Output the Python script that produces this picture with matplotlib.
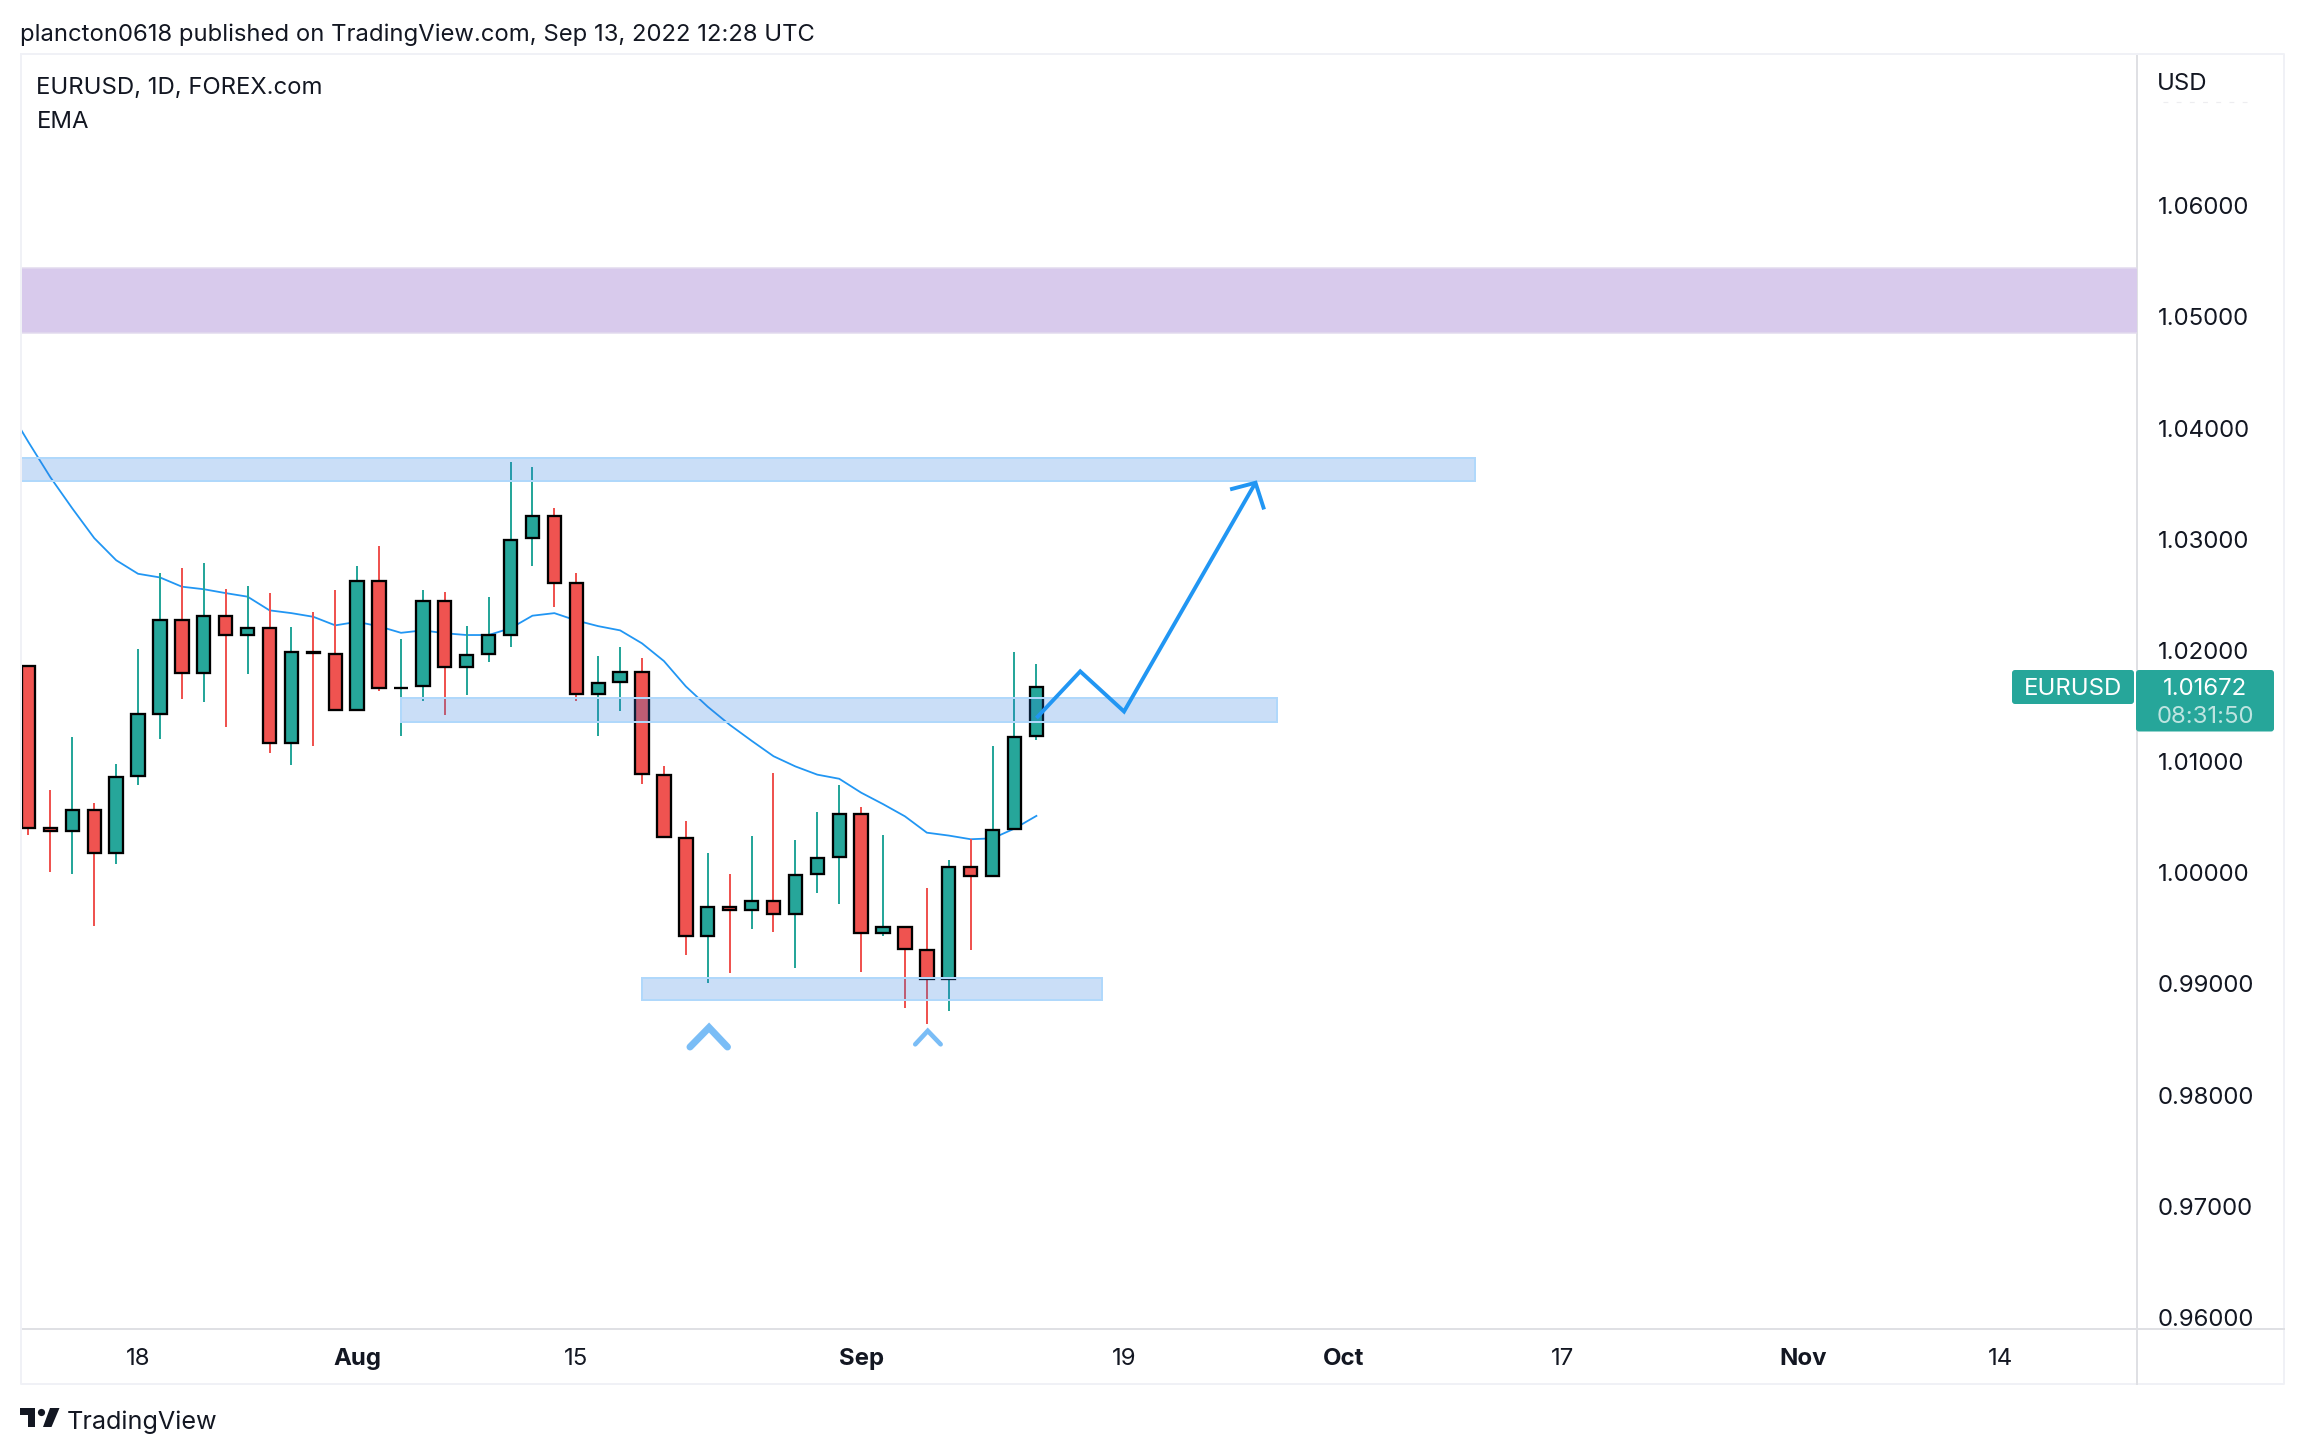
import matplotlib
matplotlib.use("Agg")
import matplotlib.pyplot as plt
from matplotlib.patches import Rectangle, Polygon, Circle, FancyBboxPatch
from matplotlib.transforms import Affine2D

# ---- data ----
opens = [1.01862, 1.00398, 1.00375, 1.00565, 1.00179, 1.00871, 1.01427, 1.02277, 1.01797, 1.02312,
         1.02142, 1.02199, 1.01170, 1.01981, 1.01971, 1.01466, 1.02621, 1.01665, 1.01675, 1.02447,
         1.01846, 1.01971, 1.02142, 1.03007, 1.03210, 1.02604, 1.01607, 1.01717, 1.01809, 1.00882,
         1.00313, 0.99426, 0.99691, 0.99661, 0.99746, 0.99625, 0.99985, 1.00139, 1.00529, 0.99455,
         0.99511, 0.99305, 0.99044, 1.00051, 0.99967, 1.00394, 1.01229]
highs = [1.01862, 1.00745, 1.01221, 1.00629, 1.00977, 1.02016, 1.02698, 1.02737, 1.02788, 1.02553,
         1.02582, 1.02512, 1.02212, 1.02347, 1.02547, 1.02763, 1.02943, 1.02106, 1.02547, 1.02528,
         1.02222, 1.02483, 1.03692, 1.03654, 1.03284, 1.02692, 1.01949, 1.02033, 1.01934, 1.00959,
         1.00467, 1.00176, 0.99989, 1.00331, 1.00897, 1.00294, 1.00548, 1.00790, 1.00592, 1.00338,
         0.99511, 0.99860, 1.00110, 1.00301, 1.01140, 1.01989, 1.01879]
lows = [1.00343, 1.00002, 0.99992, 0.99523, 1.00076, 1.00793, 1.01199, 1.01566, 1.01537, 1.01308,
        1.01791, 1.01080, 1.00970, 1.01141, 1.01466, 1.01466, 1.01636, 1.01231, 1.01546, 1.01421,
        1.01601, 1.01891, 1.02029, 1.02763, 1.02394, 1.01548, 1.01231, 1.01456, 1.00798, 1.00320,
        0.99257, 0.99007, 0.99095, 0.99492, 0.99466, 0.99139, 0.99816, 0.99716, 0.99106, 0.99433,
        0.98779, 0.98639, 0.98753, 0.99305, 0.99967, 1.00394, 1.01195]
closes = [1.00404, 1.00372, 1.00565, 1.00179, 1.00864, 1.01424, 1.02277, 1.01797, 1.02312, 1.02142,
          1.02199, 1.01170, 1.01981, 1.01980, 1.01466, 1.02621, 1.01665, 1.01665, 1.02447, 1.01846,
          1.01961, 1.02135, 1.02997, 1.03213, 1.02607, 1.01607, 1.01710, 1.01809, 1.00890, 1.00320,
          0.99426, 0.99691, 0.99661, 0.99746, 0.99625, 0.99981, 1.00132, 1.00529, 0.99455, 0.99511,
          0.99312, 0.99044, 1.00051, 0.99967, 1.00386, 1.01224, 1.01672]
ema_index = list(range(-1, 47))
ema = [1.04201, 1.03873, 1.03557, 1.03277, 1.03010, 1.02811, 1.02689, 1.02656, 1.02573, 1.02550,
       1.02515, 1.02483, 1.02360, 1.02335, 1.02302, 1.02225, 1.02257, 1.02216, 1.02158, 1.02180,
       1.02154, 1.02138, 1.02138, 1.02199, 1.02312, 1.02335, 1.02269, 1.02218, 1.02180, 1.02063,
       1.01904, 1.01676, 1.01493, 1.01331, 1.01187, 1.01048, 1.00956, 1.00882, 1.00845, 1.00720,
       1.00617, 1.00507, 1.00360, 1.00334, 1.00301, 1.00309, 1.00397, 1.00511]

y_ticks = [0.96, 0.97, 0.98, 0.99, 1.00, 1.01, 1.02, 1.03, 1.04, 1.05, 1.06]
x_tick_pos = [5, 15, 25, 38, 50, 60, 70, 81, 90]
x_tick_labels = ["18", "Aug", "15", "Sep", "19", "Oct", "17", "Nov", "14"]
bold_labels = ["Aug", "Sep", "Oct", "Nov"]

# zones: index start, index end, price low, price high
zone_purple = (-1, 97, 1.04857, 1.05439)
zones_blue = [(-1, 66.0, 1.03527, 1.03730),
              (17, 57.0, 1.01353, 1.01574),
              (28.0, 49.0, 0.98854, 0.99055)]
path_x = [46, 48, 50, 56]
path_y = [1.01391, 1.01811, 1.01450, 1.03508]
head_x = [54.84, 56, 56.39]
head_y = [1.03448, 1.03508, 1.03268]
chev_big_x = [30.19, 31.06, 31.9]
chev_big_y = [0.98432, 0.98607, 0.98432]
chev_small_x = [40.47, 41.04, 41.63]
chev_small_y = [0.98456, 0.98577, 0.98456]

# ---- style ----
W, H = 2304, 1454
FONT = "Inter"
INK = "#131722"
GREEN = "#26A69A"
RED = "#EF5350"
BLUE = "#2196F3"
AX_LINE = "#DFE0E4"
OUT_LINE = "#F0F1F6"
PX = 0.72

plt.rcParams["font.family"] = [FONT, "DejaVu Sans"]
fig = plt.figure(figsize=(W / 100, H / 100), dpi=100, facecolor="white")
px = Affine2D().scale(1 / W, -1 / H).translate(0, 1) + fig.transFigure

L, R, T, B = 20.5, 2137, 54, 1329
ax = fig.add_axes([L / W, 1 - B / H, (R - L) / W, (B - T) / H])
ax.set_xlim(-0.365, 96.23)
ax.set_ylim(0.95895, 1.07365)
ax.set_facecolor("white")

n = list(range(len(opens)))
cols = [GREEN if c >= o else RED for o, c in zip(opens, closes)]

ax.plot(ema_index, ema, color=BLUE, lw=1.8 * PX, zorder=1, solid_joinstyle="round")
ax.vlines(n, lows, highs, colors=cols, lw=2 * PX, zorder=2)
ax.bar(n, [abs(c - o) for o, c in zip(opens, closes)],
       bottom=[min(o, c) for o, c in zip(opens, closes)],
       width=0.61, color=cols, edgecolor="black", linewidth=2.3 * PX, zorder=3)

x0, x1, y0, y1 = zone_purple
ax.add_patch(Rectangle((x0, y0), x1 - x0, y1 - y0, facecolor="#D8CAEC", edgecolor="#E2DAEE",
                       lw=1.5 * PX, zorder=4))
for x0, x1, y0, y1 in zones_blue:
    ax.add_patch(Rectangle((x0, y0), x1 - x0, y1 - y0, facecolor="#2F7CE0", alpha=0.25,
                           edgecolor="none", zorder=4))
    ax.add_patch(Rectangle((x0, y0), x1 - x0, y1 - y0, facecolor="none", edgecolor="#B0D8FB",
                           lw=2 * PX, zorder=4.1))

ax.plot(path_x, path_y, color=BLUE, lw=3.9 * PX, zorder=5, solid_joinstyle="miter", solid_capstyle="butt")
ax.plot(head_x, head_y, color=BLUE, lw=3.9 * PX, zorder=5, solid_joinstyle="miter", solid_capstyle="butt")
ax.plot(chev_big_x, chev_big_y, color="#7ABDF6", lw=7 * PX, zorder=5, solid_joinstyle="miter", solid_capstyle="round")
ax.plot(chev_small_x, chev_small_y, color="#7ABDF6", lw=4.6 * PX, zorder=5, solid_joinstyle="miter", solid_capstyle="round")

# axes
for s in ("left", "top"):
    ax.spines[s].set_color(OUT_LINE)
    ax.spines[s].set_linewidth(2 * PX)
for s in ("right", "bottom"):
    ax.spines[s].set_color(AX_LINE)
    ax.spines[s].set_linewidth(2 * PX)
ax.yaxis.tick_right()
ax.set_yticks(y_ticks)
ax.set_yticklabels([f"{v:.5f}" for v in y_ticks])
ax.set_xticks(x_tick_pos)
ax.set_xticklabels(x_tick_labels)
ax.tick_params(axis="y", length=0, pad=15, labelsize=24 * PX, labelcolor=INK)
ax.tick_params(axis="x", length=0, pad=14, labelsize=24 * PX, labelcolor=INK)
for lab in ax.get_xticklabels():
    if lab.get_text() in bold_labels:
        lab.set_fontweight("bold")

# outer frame of the time and price scales
fig.add_artist(plt.Line2D([L, L, 2284, 2284, L], [T, 1383.5, 1383.5, T, T], transform=px,
                          color=OUT_LINE, lw=2 * PX, zorder=0.5))
fig.add_artist(plt.Line2D([R, R], [B, 1383.5], transform=px, color=AX_LINE, lw=2 * PX, zorder=0.5))
fig.add_artist(plt.Line2D([R, 2284], [B, B], transform=px, color=AX_LINE, lw=2 * PX, zorder=0.5))
# faint remnant of the clipped price label under the currency
fig.add_artist(plt.Line2D([2163, 2250], [101.7, 101.7], transform=px, color="#EDEDF0", lw=1.2 * PX,
                          dashes=(4, 7), zorder=0.6))


def label(x, y, s, size=24, color=INK, ha="left", weight="normal", alpha=None, z=6):
    fig.text(x / W, 1 - y / H, s, fontsize=size * PX, color=color, ha=ha, va="center_baseline",
             fontweight=weight, alpha=alpha, zorder=z)


label(20.5, 32, "plancton0618 published on TradingView.com, Sep 13, 2022 12:28 UTC", size=23.85)
label(36.5, 86, "EURUSD, 1D, FOREX.com", size=23.9)
label(36.5, 120, "EMA", size=23.9)
label(2156.5, 81, "USD")

# last price tags
fig.add_artist(FancyBboxPatch((2012, 670), 122, 34, boxstyle="round,pad=0,rounding_size=3", transform=px,
                              facecolor=GREEN, edgecolor="none", zorder=3))
fig.add_artist(FancyBboxPatch((2136, 670), 138, 61.5, boxstyle="round,pad=0,rounding_size=3", transform=px,
                              facecolor=GREEN, edgecolor="none", zorder=3))
label(2073, 687, "EURUSD", color="white", ha="center")
label(2205.5, 687, "1.01672", color="white", ha="center")
label(2205.5, 714, "08:31:50", color="white", ha="center", alpha=0.7)

# TradingView mark and name
logo = "#131722"
fig.add_artist(Polygon([(20, 1408), (35, 1408), (35, 1427), (27.5, 1427), (27.5, 1415), (20, 1415)],
                       closed=True, transform=px, facecolor=logo, edgecolor="none", zorder=3))
fig.add_artist(Circle((41.5, 1412.5), 3.6, transform=px, facecolor=logo, edgecolor="none", zorder=3))
fig.add_artist(Polygon([(50, 1408), (59.5, 1408), (51.5, 1427), (43, 1427)],
                       closed=True, transform=px, facecolor=logo, edgecolor="none", zorder=3))
label(67, 1420, "TradingView", size=25.2)

fig.savefig("out.png", dpi=100, facecolor="white")
